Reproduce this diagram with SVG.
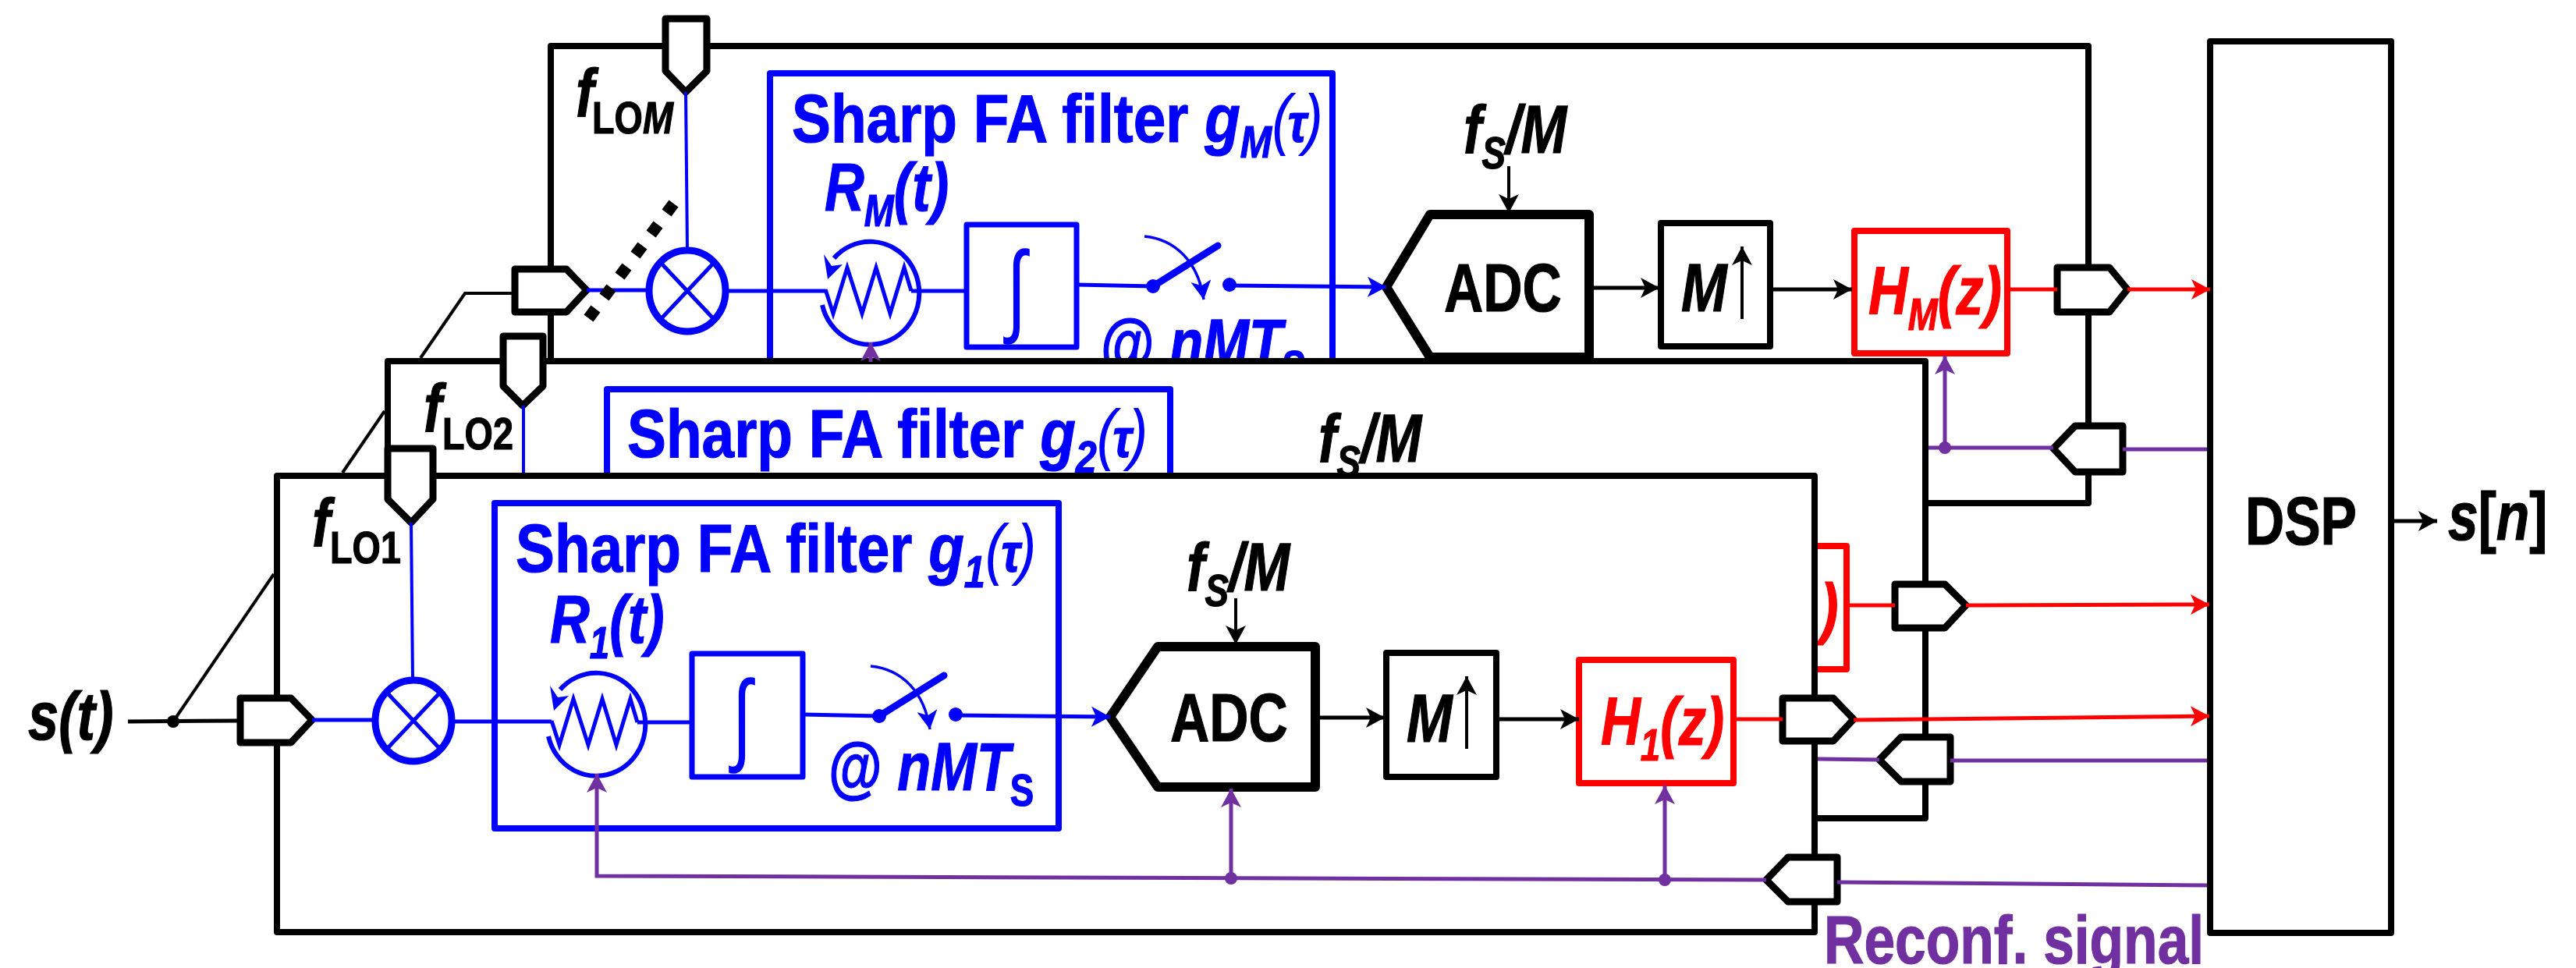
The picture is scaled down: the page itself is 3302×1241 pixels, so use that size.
<svg xmlns="http://www.w3.org/2000/svg" width="3302" height="1241" viewBox="0 0 3302 1241">
<style>
text{font-family:"Liberation Sans",Arial,sans-serif;font-weight:bold;font-size:88px}
.i{font-style:italic}
.s{font-size:57px}
.k{fill:#000;stroke:#000;stroke-width:1.200}.b{fill:#00f;stroke:#00f;stroke-width:1.200}.r{fill:#f00;stroke:#f00;stroke-width:1.200}.p{fill:#7030a0;stroke:#7030a0;stroke-width:1.200}
.box{fill:#fff;stroke:#000;stroke-width:8;stroke-linejoin:round}
.adc{fill:#fff;stroke:#000;stroke-width:12;stroke-linejoin:round}
.blue{fill:none;stroke:#00f;stroke-width:8;stroke-linejoin:round}
.red{fill:#fff;stroke:#f00;stroke-width:8;stroke-linejoin:round}
.port{fill:#fff;stroke:#000;stroke-width:9;stroke-linejoin:round}
.w{fill:none;stroke-width:5}
.wk{stroke:#000}.wb{stroke:#00f}.wr{stroke:#f00}.wp{stroke:#7030a0}
.int{font-family:"Liberation Sans",sans-serif;font-weight:normal;font-size:130px;fill:#00f}
.par{letter-spacing:-5px;font-weight:normal;font-style:italic;stroke-width:0}
.tau{letter-spacing:-5px;font-weight:bold;font-size:70px;stroke-width:1.200}
</style>
<defs>
<marker id="ak" markerUnits="userSpaceOnUse" markerWidth="24" markerHeight="26" viewBox="0 0 24 26" refX="24" refY="13" orient="auto"><path d="M24,13 L0,0 L6,13 L0,26Z" fill="#000"/></marker>
<marker id="ab" markerUnits="userSpaceOnUse" markerWidth="24" markerHeight="26" viewBox="0 0 24 26" refX="24" refY="13" orient="auto"><path d="M24,13 L0,0 L6,13 L0,26Z" fill="#00f"/></marker>
<marker id="ar" markerUnits="userSpaceOnUse" markerWidth="24" markerHeight="26" viewBox="0 0 24 26" refX="24" refY="13" orient="auto"><path d="M24,13 L0,0 L6,13 L0,26Z" fill="#f00"/></marker>
<marker id="ap" markerUnits="userSpaceOnUse" markerWidth="24" markerHeight="26" viewBox="0 0 24 26" refX="24" refY="13" orient="auto"><path d="M24,13 L0,0 L6,13 L0,26Z" fill="#7030a0"/></marker>
<g id="mixer"><ellipse cx="0" cy="0" rx="49" ry="52" fill="#fff" stroke="#00f" stroke-width="9"/><path d="M-33,-35L33,35M33,-35L-33,35" fill="none" stroke="#00f" stroke-width="5"/></g>
<g id="res"><path d="M-62,18A63,66 0 1 0 -47,-42" fill="none" stroke="#00f" stroke-width="6"/><path d="M-58,-2 L-48,29 L-30,-30 L-11,29 L7,-30 L25,29 L43,-30 L52,0" fill="none" stroke="#00f" stroke-width="5"/><path d="M-55,-15 L-60,-47 L-50,-32 L-36,-34Z" fill="#00f"/></g>
<g id="sw"><circle cx="0" cy="0" r="9" fill="#00f"/><path d="M0,0L83,-52" stroke="#00f" stroke-width="9" stroke-linecap="round"/><circle cx="98" cy="-2" r="9" fill="#00f"/><path d="M-11,-64C30,-60 58,-30 65,17" fill="none" stroke="#00f" stroke-width="3.500" marker-end="url(#ab)"/></g>
</defs>
<rect width="3302" height="1241" fill="#fff"/>

<g id="frame-m">
<rect class="box" x="706" y="59" width="1971" height="586"/>
<rect class="blue" x="987" y="94" width="721" height="417"/>
<text class="b" transform="translate(1015,182) scale(.85,1)">Sharp FA filter <tspan class="i">g</tspan><tspan class="i s" dy="20">M</tspan><tspan class="par" dy="-20">(</tspan><tspan class="i tau">τ</tspan><tspan class="par">)</tspan></text>
<text class="b i" transform="translate(1057,270) scale(.8,1)">R<tspan class="s" dy="20">M</tspan><tspan dy="-20">(t)</tspan></text>
<text class="b" transform="translate(1411,470) scale(.8,1)">@ <tspan class="i">nMT</tspan><tspan class="s" dy="20">S</tspan></text>
<text class="k i" transform="translate(738,149) scale(.8,1)">f</text>
<text class="k s" transform="translate(759,171) scale(.82,1)">LO<tspan class="i">M</tspan></text>
<text class="k i" transform="translate(1876,196) scale(.8,1)">f<tspan class="s" dy="20">S</tspan><tspan dy="-20">/M</tspan></text>
</g>
<g id="mixer-m"><use href="#mixer" transform="translate(881,373)"/></g>
<g id="res-m"><use href="#res" transform="translate(1116,373)"/></g>
<g id="int-m"><rect x="1239" y="288" width="141" height="157" fill="#fff" stroke="#00f" stroke-width="7" stroke-linejoin="round"/><text class="int" transform="translate(1303,414) scale(.7,1)" text-anchor="middle">∫</text></g>
<g id="switch-m"><use href="#sw" transform="translate(1478,367)"/></g>
<g id="adc-m"><path class="adc" d="M1777,368L1833,275H2037V458H1833Z"/><text class="k" transform="translate(1851,399) scale(.79,1)">ADC</text></g>
<g id="up-m"><rect class="box" x="2129" y="286" width="140" height="158"/><text class="k i" transform="translate(2155,399) scale(.8,1)">M</text></g>
<g id="h-m"><rect class="red" x="2377" y="296" width="196" height="157"/><text class="r i" transform="translate(2395,403) scale(.8,1)">H<tspan class="s" dy="20">M</tspan><tspan dy="-20">(z)</tspan></text></g>
<g id="port-lo-m"><path class="port" d="M853,24H906V91L879,118L853,91Z"/></g>
<g id="port-in-m"><path class="port" d="M660,345H726L752,372L726,400H660Z"/></g>
<g id="port-out-m"><path class="port" d="M2637,343H2704L2727,371L2704,400H2637Z"/></g>
<g id="port-rec-m"><path class="port" d="M2632,575L2660,546H2721V605H2660Z"/></g>

<g id="frame-2">
<rect class="box" x="497" y="463" width="1971" height="586"/>
<rect class="blue" x="778" y="499" width="722" height="200"/>
<text class="b" transform="translate(804,586) scale(.85,1)">Sharp FA filter <tspan class="i">g</tspan><tspan class="i s" dy="20">2</tspan><tspan class="par" dy="-20">(</tspan><tspan class="i tau">τ</tspan><tspan class="par">)</tspan></text>
<text class="k i" transform="translate(543,553) scale(.8,1)">f</text>
<text class="k s" transform="translate(567,576) scale(.82,1)">LO2</text>
<text class="k i" transform="translate(1690,592) scale(.8,1)">f<tspan class="s" dy="20">S</tspan><tspan dy="-20">/M</tspan></text>
</g>
<g id="h-2"><rect class="red" x="2168" y="700" width="199" height="158"/><text class="r i" transform="translate(2333,809) scale(.8,1)">)</text></g>
<g id="port-lo-2"><path class="port" d="M645,431H696V495L670,520L645,495Z"/></g>
<g id="port-out-2"><path class="port" d="M2429,749H2493L2520,776L2493,805H2429Z"/></g>
<g id="port-rec-2"><path class="port" d="M2409,974L2437,945H2500V1002H2437Z"/></g>

<g id="frame-1">
<rect class="box" x="355" y="610" width="1971" height="585"/>
<rect class="blue" x="634" y="645" width="723" height="417"/>
<text class="b" transform="translate(661,733) scale(.85,1)">Sharp FA filter <tspan class="i">g</tspan><tspan class="i s" dy="20">1</tspan><tspan class="par" dy="-20">(</tspan><tspan class="i tau">τ</tspan><tspan class="par">)</tspan></text>
<text class="b i" transform="translate(705,824) scale(.8,1)">R<tspan class="s" dy="20">1</tspan><tspan dy="-20">(t)</tspan></text>
<text class="b" transform="translate(1062,1013) scale(.8,1)">@ <tspan class="i">nMT</tspan><tspan class="s" dy="20">S</tspan></text>
<text class="k i" transform="translate(400,700) scale(.8,1)">f</text>
<text class="k s" transform="translate(423,722) scale(.82,1)">LO1</text>
<text class="k i" transform="translate(1521,757) scale(.8,1)">f<tspan class="s" dy="20">S</tspan><tspan dy="-20">/M</tspan></text>
</g>
<g id="mixer-1"><use href="#mixer" transform="translate(530,924)"/></g>
<g id="res-1"><use href="#res" transform="translate(765,926)"/></g>
<g id="int-1"><rect x="887" y="838" width="142" height="158" fill="#fff" stroke="#00f" stroke-width="7" stroke-linejoin="round"/><text class="int" transform="translate(951,964) scale(.7,1)" text-anchor="middle">∫</text></g>
<g id="switch-1"><use href="#sw" transform="translate(1127,918)"/></g>
<g id="adc-1"><path class="adc" d="M1423,919L1484,829H1686V1009H1484Z"/><text class="k" transform="translate(1500,950) scale(.79,1)">ADC</text></g>
<g id="up-1"><rect class="box" x="1777" y="837" width="141" height="159"/><text class="k i" transform="translate(1803,951) scale(.8,1)">M</text></g>
<g id="h-1"><rect class="red" x="2024" y="846" width="198" height="158"/><text class="r i" transform="translate(2052,955) scale(.8,1)">H<tspan class="s" dy="20">1</tspan><tspan dy="-20">(z)</tspan></text></g>
<g id="port-lo-1"><path class="port" d="M497,575H555V640L527,670L497,640Z"/></g>
<g id="port-in-1"><path class="port" d="M308,895H373L400,923L373,952H308Z"/></g>
<g id="port-out-1"><path class="port" d="M2285,895H2350L2376,922L2350,950H2285Z"/></g>
<g id="port-rec-1"><path class="port" d="M2264,1128L2292,1099H2355V1156H2292Z"/></g>

<g id="dsp"><rect class="box" x="2833" y="53" width="232" height="1143"/><text class="k" transform="translate(2878,698) scale(.79,1)">DSP</text></g>

<g id="labels">
<text class="k i" transform="translate(36,948) scale(.8,1)">s(t)</text>
<text class="k" transform="translate(3138,692) scale(.79,1)"><tspan class="i">s</tspan>[<tspan class="i">n</tspan>]</text>
<text class="p" transform="translate(2338,1235) scale(.81,1)">Reconf. signal</text>
</g>

<g id="connectors" class="w">
<g class="wk">
<path d="M164,925L305,924"/>
<path d="M222,925L351,736" stroke-width="4"/>
<path d="M439,606L493,527" stroke-width="4"/>
<path d="M539,459L596,376H658" stroke-width="4"/>
<path d="M1584,767V826" stroke-width="4" marker-end="url(#ak)"/>
<path d="M1691,920H1775" marker-end="url(#ak)"/>
<path d="M1920,922H2024" marker-end="url(#ak)"/>
<path d="M1880,960V867" stroke-width="4" marker-end="url(#ak)"/>
<path d="M1934,213V273" stroke-width="4" marker-end="url(#ak)"/>
<path d="M2041,369H2127" marker-end="url(#ak)"/>
<path d="M2272,371H2374" marker-end="url(#ak)"/>
<path d="M2233,409V316" stroke-width="4" marker-end="url(#ak)"/>
<path d="M3065,668H3124" marker-end="url(#ak)"/>
</g>
<circle cx="222" cy="925" r="8" fill="#000"/>
<g class="wb">
<path d="M400,923H481"/>
<path d="M527,670L529,871" stroke-width="4"/>
<path d="M579,925H707"/>
<path d="M817,926H887"/>
<path d="M1029,916L1127,918"/>
<path d="M1225,917L1423,919" marker-end="url(#ab)"/>
<path d="M671,520V606" stroke-width="4"/>
<path d="M879,118L881,320" stroke-width="4"/>
<path d="M752,372H832"/>
<path d="M930,373H1058"/>
<path d="M1168,373H1239"/>
<path d="M1380,365L1478,367"/>
<path d="M1576,366L1777,368" marker-end="url(#ab)"/>
</g>
<path d="M754.500,408L863.500,261" fill="none" stroke="#000" stroke-width="15" stroke-dasharray="15 18.600"/>
<g class="wr">
<path d="M2222,922H2285"/>
<path d="M2376,923L2832,918" marker-end="url(#ar)"/>
<path d="M2367,776H2429"/>
<path d="M2520,776L2832,775" marker-end="url(#ar)"/>
<path d="M2575,371H2637"/>
<path d="M2727,371H2833" marker-end="url(#ar)"/>
</g>
<g class="wp">
<path d="M2264,1128L765,1123V992" marker-end="url(#ap)"/>
<path d="M1578,1126V1011" marker-end="url(#ap)"/>
<path d="M2134,1128V1007" marker-end="url(#ap)"/>
<path d="M2355,1131L2829,1135"/>
<path d="M2330,973L2409,974"/>
<path d="M2500,975H2829"/>
<path d="M2472,574H2632"/>
<path d="M2721,576H2829"/>
<path d="M2493,574V456" marker-end="url(#ap)"/>
<path d="M1116,464V439" marker-end="url(#ap)"/>
</g>
<circle cx="1578" cy="1126" r="8" fill="#7030a0"/>
<circle cx="2134" cy="1128" r="8" fill="#7030a0"/>
<circle cx="2493" cy="574" r="8" fill="#7030a0"/>
</g>
</svg>
